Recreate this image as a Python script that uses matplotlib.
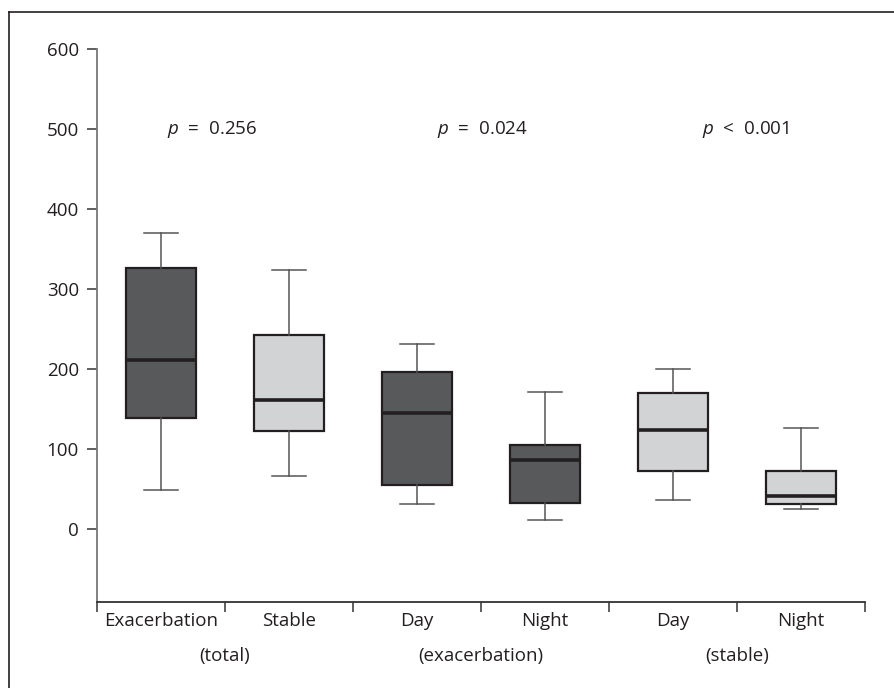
import matplotlib
matplotlib.use("Agg")
import matplotlib.pyplot as plt
from matplotlib.lines import Line2D

plt.rcParams["font.family"] = ["Open Sans", "DejaVu Sans"]
plt.rcParams["mathtext.fontset"] = "custom"
plt.rcParams["mathtext.it"] = "Open Sans:italic"
plt.rcParams["mathtext.rm"] = "Open Sans"

# box summaries
labels = ["Exacerbation", "Stable", "Day", "Night", "Day", "Night"]
groups = ["(total)", "(exacerbation)", "(stable)"]
whislo = [49, 66, 32, 12, 37, 25]
q1 = [139, 123, 55, 33, 73, 31]
med = [212, 161, 145, 87, 124, 41]
q3 = [327, 243, 197, 105, 170, 73]
whishi = [370, 324, 232, 172, 200, 127]
fills = ["#58595b", "#d1d3d4", "#58595b", "#58595b", "#d1d3d4", "#d1d3d4"]
p_texts = [r"$p$  =  0.256", r"$p$  =  0.024", r"$p$  <  0.001"]
p_x = [1.40, 3.51, 5.57]
yticks = [0, 100, 200, 300, 400, 500, 600]

fig = plt.figure(figsize=(8.95, 6.88), dpi=100)
ax = fig.add_axes([97 / 895, 1 - 602 / 688, (865 - 97) / 895, (602 - 49.3) / 688])

stats = []
for i in range(len(labels)):
    stats.append({"whislo": whislo[i], "q1": q1[i], "med": med[i],
                  "q3": q3[i], "whishi": whishi[i], "fliers": []})

bp = ax.bxp(stats, positions=range(1, 7), widths=0.55, patch_artist=True,
            showfliers=False, capwidths=0.27,
            boxprops=dict(edgecolor="#231f20", linewidth=1.6),
            medianprops=dict(color="#231f20", linewidth=2.6),
            whiskerprops=dict(color="#555555", linewidth=1.1),
            capprops=dict(color="#555555", linewidth=1.1))
for patch, c in zip(bp["boxes"], fills):
    patch.set_facecolor(c)

ax.set_xlim(0.5, 6.5)
ax.set_ylim(-91, 600)
ax.set_yticks(yticks)
ax.set_xticks([0.5, 1.5, 2.5, 3.5, 4.5, 5.5, 6.5])
ax.set_xticklabels([])
ax.tick_params(axis="y", length=7, width=1.1, color="#333333", pad=6,
               labelsize=13.5, labelcolor="#231f20")
ax.tick_params(axis="x", length=7, width=1.1, color="#333333", direction="out")

for s in ["top", "right"]:
    ax.spines[s].set_visible(False)
ax.spines["left"].set_color("#777777")
ax.spines["left"].set_linewidth(1.3)
ax.spines["bottom"].set_color("#333333")
ax.spines["bottom"].set_linewidth(1.3)

# category and group labels under the axis
trans = ax.get_xaxis_transform()
for i, lab in enumerate(labels):
    ax.text(i + 1, -0.035, lab, transform=trans, ha="center", va="center",
            fontsize=13.5, color="#231f20")
for i, g in enumerate(groups):
    ax.text(1.5 + 2 * i, -0.097, g, transform=trans, ha="center", va="center",
            fontsize=13.5, color="#231f20")

for x, t in zip(p_x, p_texts):
    ax.text(x, 500, t, ha="center", va="center", fontsize=13.5, color="#231f20")

# outer frame (open at right and bottom)
fx = 9 / 895
fy = 1 - 12 / 688
fig.add_artist(Line2D([fx, fx], [0, fy], transform=fig.transFigure,
                      color="#231f20", linewidth=1.2))
fig.add_artist(Line2D([fx, 1], [fy, fy], transform=fig.transFigure,
                      color="#231f20", linewidth=1.2))

fig.savefig("out.png", dpi=100)
